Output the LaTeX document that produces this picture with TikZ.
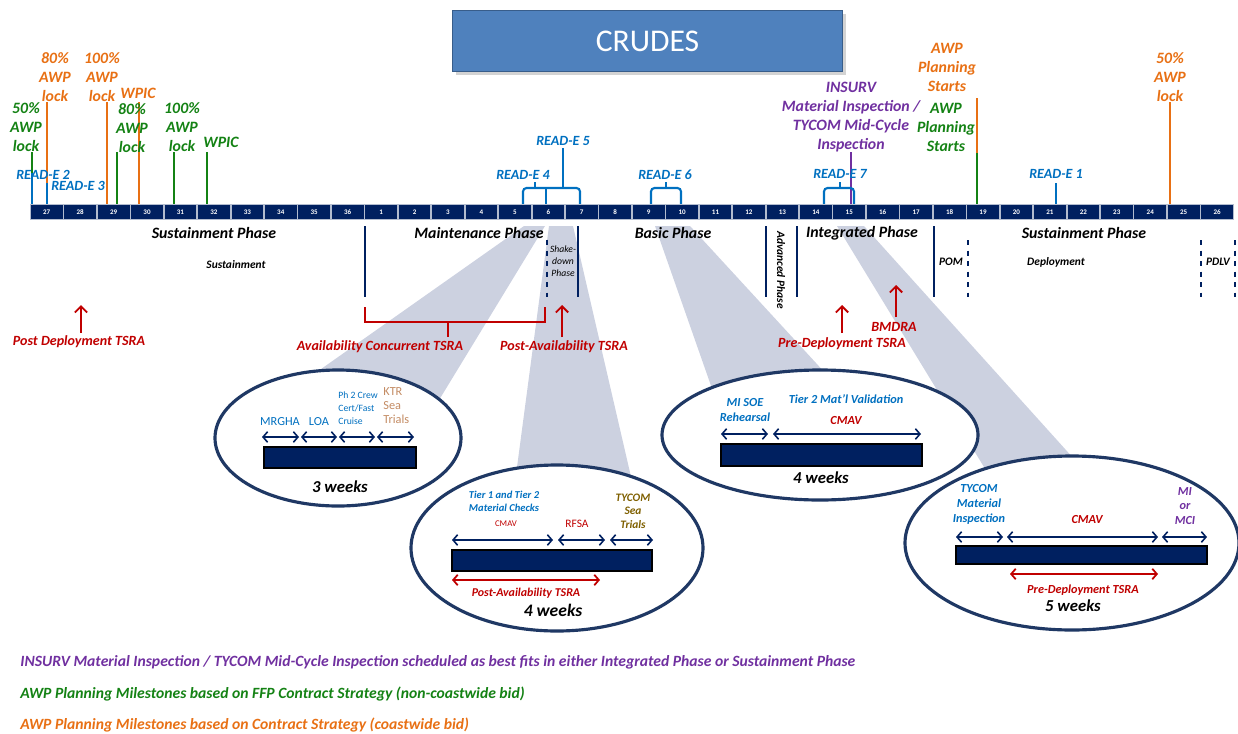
\documentclass[tikz,border=0pt]{standalone}
\usepackage{fontspec}
\setmainfont{Carlito}
\usetikzlibrary{arrows.meta,shadows}

\definecolor{navy}{RGB}{0,32,96}
\definecolor{ringblue}{RGB}{31,56,100}
\definecolor{titleblue}{RGB}{79,129,189}
\definecolor{titleedge}{RGB}{56,93,138}
\definecolor{readblue}{RGB}{0,112,192}
\definecolor{awporange}{RGB}{232,112,20}
\definecolor{awpgreen}{RGB}{20,130,20}
\definecolor{insurvpurple}{RGB}{112,48,160}
\definecolor{tsrared}{RGB}{192,0,0}
\definecolor{shadegray}{RGB}{204,209,224}
\definecolor{ktrtan}{RGB}{196,140,100}
\definecolor{tycombrown}{RGB}{127,96,0}

\newcommand{\bif}[2]{\bfseries\itshape\fontsize{#1}{#2}\selectfont}
\newcommand{\rgf}[2]{\fontsize{#1}{#2}\selectfont}

\tikzset{
  mile/.style={font=\bif{9}{10.8}, align=center, inner sep=0pt},
  readlbl/.style={font=\bif{8}{9}, text=readblue, inner sep=0pt},
  phase/.style={font=\bif{9}{10}, inner sep=0pt},
  subphase/.style={font=\bif{6.5}{7.5}, inner sep=0pt},
  tsra/.style={font=\bif{8}{9}, text=tsrared, inner sep=0pt},
  markline/.style={line width=1.2pt},
  phaseline/.style={navy, line width=1.2pt},
  cell/.style={rectangle, fill=navy, draw=white!70!navy, line width=0.5pt,
    minimum width=0.655cm, minimum height=0.31cm, inner sep=0pt,
    text=white, font=\bfseries\fontsize{4}{4}\selectfont},
  upper/.style={tsrared, line width=1.1pt, -{Straight Barb[length=3.5pt,width=7pt]}},
  span/.style={navy, line width=0.9pt,
    {Straight Barb[length=2.6pt,width=6pt]}-{Straight Barb[length=2.6pt,width=6pt]}},
  redspan/.style={tsrared, line width=1pt,
    {Straight Barb[length=2.6pt,width=6pt]}-{Straight Barb[length=2.6pt,width=6pt]}},
  bubble/.style={draw=ringblue, line width=1.8pt, fill=white},
  weekbar/.style={draw=black, line width=0.8pt, fill=navy},
  shade/.style={fill=shadegray, draw=none},
  inlbl/.style={inner sep=0pt, align=center},
  note/.style={font=\bif{8.9}{10}, anchor=west, inner sep=0pt}
}

\begin{document}
\begin{tikzpicture}[x=0.02cm, y=-0.02cm]
\useasboundingbox (0,0) rectangle (1238,734);

% callout shading
\fill[shade] (524,226) -- (545,226) -- (436,405) -- (270,405) -- cycle;
\fill[shade] (549,226) -- (573,226) -- (641,520) -- (510,520) -- cycle;
\fill[shade] (655,226) -- (690,226) -- (850,400) -- (716,400) -- cycle;
\fill[shade] (837,226) -- (864,226) -- (1102,490) -- (998,490) -- cycle;

% title
\node[rectangle, fill=titleblue, draw=titleedge, line width=1pt,
  minimum width=7.8cm, minimum height=1.22cm,
  drop shadow={opacity=0.35, shadow xshift=2pt, shadow yshift=-2pt},
  text=white, font=\fontsize{18}{20}\selectfont] (title) at (647.5,41) {CRUDES};

% awp milestones, coastwide
\draw[markline, awporange] (47,102) -- (47,204);
\draw[markline, awporange] (107,102) -- (107,204);
\draw[markline, awporange] (139,102) -- (139,204);
\draw[markline, awporange] (1170,102) -- (1170,204);
\draw[markline, awporange] (977,98) -- (977,153);
\node[mile, text=awporange] (lockeightyo) at (55,77) {80\%\\AWP\\lock};
\node[mile, text=awporange] (lockhundredo) at (102,77) {100\%\\AWP\\lock};
\node[mile, text=awporange] (wpico) at (138,93) {WPIC};
\node[mile, text=awporange] (startso) at (947,67) {AWP\\Planning\\Starts};
\node[mile, text=awporange] (lockfiftyo) at (1170,77) {50\%\\AWP\\lock};

% awp milestones, non-coastwide
\draw[markline, awpgreen] (32,152) -- (32,204);
\draw[markline, awpgreen] (117,152) -- (117,204);
\draw[markline, awpgreen] (174,152) -- (174,204);
\draw[markline, awpgreen] (207,152) -- (207,204);
\draw[markline, awpgreen] (977,153) -- (977,204);
\node[mile, text=awpgreen] (lockfiftyg) at (26,127) {50\%\\AWP\\lock};
\node[mile, text=awpgreen] (lockeightyg) at (132,128) {80\%\\AWP\\lock};
\node[mile, text=awpgreen] (lockhundredg) at (182,127) {100\%\\AWP\\lock};
\node[mile, text=awpgreen] (wpicg) at (221,142) {WPIC};
\node[mile, text=awpgreen] (startsg) at (946,127) {AWP\\Planning\\Starts};

% insurv
\draw[markline, insurvpurple] (851,152) -- (851,204);
\node[mile, text=insurvpurple] (insurv) at (851,117)
  {INSURV\\Material Inspection /\\TYCOM Mid-Cycle\\Inspection};

% read-e events
\draw[markline, readblue] (32,173) -- (32,204);
\draw[markline, readblue] (47,183) -- (47,204);
\draw[markline, readblue] (1056,183) -- (1056,204);
\draw[markline, readblue, rounded corners=2pt] (523,204) -- (523,188) -- (580,188) -- (580,204);
\draw[markline, readblue] (546,188) -- (546,204);
\draw[markline, readblue] (535,188) -- (535,182);
\draw[markline, readblue] (563,188) -- (563,148);
\draw[markline, readblue, rounded corners=2pt] (651,204) -- (651,188) -- (681,188) -- (681,204);
\draw[markline, readblue] (666,188) -- (666,182);
\draw[markline, readblue, rounded corners=2pt] (824,204) -- (824,188) -- (854,188) -- (854,204);
\draw[markline, readblue] (840,188) -- (840,182);
\node[readlbl] (reade2) at (43,175) {READ-E 2};
\node[readlbl] (reade3) at (78,186) {READ-E 3};
\node[readlbl] (reade4) at (523,175) {READ-E 4};
\node[readlbl] (reade5) at (563,141) {READ-E 5};
\node[readlbl] (reade6) at (665,175) {READ-E 6};
\node[readlbl] (reade7) at (840,174) {READ-E 7};
\node[readlbl] (reade1) at (1056,174) {READ-E 1};

% months
\foreach \i in {0,...,35}{
  \pgfmathtruncatemacro{\n}{mod(\i+26,36)+1}
  \node[cell] (m\n) at ({30+33.44*(\i+0.5)},212) {\n};
}

% phases
\draw[phaseline] (365,226) -- (365,297);
\draw[phaseline, dashed] (547,240) -- (547,297);
\draw[phaseline] (578,226) -- (578,297);
\draw[phaseline] (766,226) -- (766,297);
\draw[phaseline] (797,226) -- (797,297);
\draw[phaseline] (934,226) -- (934,297);
\draw[phaseline, dashed] (968,240) -- (968,297);
\draw[phaseline, dashed] (1201,240) -- (1201,297);
\draw[phaseline, dashed] (1235,240) -- (1235,297);
\node[phase] (sustainone) at (214,233) {Sustainment Phase};
\node[phase] (maint) at (479,233) {Maintenance Phase};
\node[phase] (basic) at (673,233) {Basic Phase};
\node[phase] (integ) at (862,233) {Integrated Phase};
\node[phase] (sustaintwo) at (1084,233) {Sustainment Phase};
\node[subphase] (sustainsub) at (236,265) {Sustainment};
\node[subphase] (pom) at (951,262) {POM};
\node[subphase] (deploy) at (1056,262) {Deployment};
\node[subphase] (pdlv) at (1218,262) {PDLV};
\node[subphase, rotate=-90] (adv) at (781,270) {Advanced Phase};
\node[inlbl, font=\itshape\fontsize{5.5}{6.8}\selectfont] (shake) at (563,261)
  {Shake-\\down\\Phase};

% tsra
\draw[tsrared, line width=1.2pt] (365,307) -- (365,322) -- (545,322) -- (545,307);
\draw[tsrared, line width=1.2pt] (448,322) -- (448,337);
\draw[upper] (81,333) -- (81,305);
\draw[upper] (562,337) -- (562,305);
\draw[upper] (842,333) -- (842,305);
\draw[upper] (896,317) -- (896,285);
\node[tsra] (tsrapostdep) at (79,342) {Post Deployment TSRA};
\node[tsra] (tsraconc) at (380,347) {Availability Concurrent TSRA};
\node[tsra] (tsrapostav) at (564,347) {Post-Availability TSRA};
\node[tsra] (tsrapredep) at (842,344) {Pre-Deployment TSRA};
\node[tsra] (bmdra) at (894,327) {BMDRA};

% maintenance bubble
\draw[bubble] (338,438) ellipse [x radius=123, y radius=68];
\draw[weekbar] (264,447) rectangle (416,468);
\draw[span] (262,437) -- (299,437);
\draw[span] (301,437) -- (337,437);
\draw[span] (339,437) -- (375,437);
\draw[span] (377,437) -- (414,437);
\node[inlbl, text=readblue, font=\rgf{7}{8}] (mrgha) at (280,422) {MRGHA};
\node[inlbl, text=readblue, font=\rgf{7}{8}] (loa) at (319,422) {LOA};
\node[inlbl, anchor=west, align=left, text=readblue, font=\rgf{5.5}{7.3}] (crewcert) at (338,408)
  {Ph 2 Crew\\Cert/Fast\\Cruise};
\node[inlbl, anchor=west, align=left, text=ktrtan, font=\rgf{7}{8}] (ktr) at (383,406)
  {KTR\\Sea\\Trials};
\node[inlbl, font=\bif{9.5}{11}] (weeksone) at (340,487) {3 weeks};

% shakedown bubble
\draw[bubble] (557,548) ellipse [x radius=146, y radius=83];
\draw[weekbar] (452,550) rectangle (652,571);
\draw[span] (452,540) -- (553,540);
\draw[span] (558,540) -- (605,540);
\draw[span] (610,540) -- (653,540);
\draw[redspan] (452,580) -- (600,580);
\node[inlbl, text=readblue, font=\bif{6}{7.3}] (tierchecks) at (504,501)
  {Tier 1 and Tier 2\\Material Checks};
\node[inlbl, text=tsrared, font=\rgf{5}{6}] (cmavtwo) at (506,524) {CMAV};
\node[inlbl, text=tsrared, font=\rgf{6.5}{7.5}] (rfsa) at (577,524) {RFSA};
\node[inlbl, text=tycombrown, font=\bif{6.5}{7.6}] (tycomsea) at (633,511)
  {TYCOM\\Sea\\Trials};
\node[inlbl, text=tsrared, font=\bif{6.8}{8}] (postavin) at (526,593) {Post-Availability TSRA};
\node[inlbl, font=\bif{10}{11}] (weekstwo) at (553,610) {4 weeks};

% pre-deployment bubble
\draw[bubble] (1072,543) ellipse [x radius=167, y radius=87];
\draw[weekbar] (956,546) rectangle (1207,564);
\draw[span] (956,537) -- (1003,537);
\draw[span] (1007,537) -- (1158,537);
\draw[span] (1162,537) -- (1207,537);
\draw[redspan] (1010,574) -- (1158,574);
\node[inlbl, text=readblue, font=\bif{7}{8.5}] (tycommat) at (979,504)
  {TYCOM\\Material\\Inspection};
\node[inlbl, text=tsrared, font=\bif{7}{8}] (cmavfour) at (1087,520) {CMAV};
\node[inlbl, text=insurvpurple, font=\bif{7}{8}] (mimci) at (1185,506) {MI\\or\\MCI};
\node[inlbl, text=tsrared, font=\bif{7}{8}] (predepin) at (1083,590) {Pre-Deployment TSRA};
\node[inlbl, font=\bif{9.5}{11}] (weeksfour) at (1073,606) {5 weeks};

% basic bubble
\draw[bubble] (820,435) ellipse [x radius=158, y radius=65];
\draw[weekbar] (721,444) rectangle (922,466);
\draw[span] (721,434) -- (768,434);
\draw[span] (773,434) -- (921,434);
\node[inlbl, text=readblue, font=\bif{7}{8.5}] (misoe) at (745,410) {MI SOE\\Rehearsal};
\node[inlbl, text=readblue, font=\bif{7}{8}] (tiervalid) at (846,399) {Tier 2 Mat’l Validation};
\node[inlbl, text=tsrared, font=\bif{7}{8}] (cmavthree) at (846,421) {CMAV};
\node[inlbl, font=\bif{9.5}{11}] (weeksthree) at (821,478) {4 weeks};

% notes
\node[note, text=insurvpurple] (noteinsurv) at (20,662)
  {INSURV Material Inspection / TYCOM Mid-Cycle Inspection scheduled as best fits in either Integrated Phase or Sustainment Phase};
\node[note, text=awpgreen] (notegreen) at (20,694)
  {AWP Planning Milestones based on FFP Contract Strategy (non-coastwide bid)};
\node[note, text=awporange] (noteorange) at (20,725)
  {AWP Planning Milestones based on Contract Strategy (coastwide bid)};
\end{tikzpicture}
\end{document}
